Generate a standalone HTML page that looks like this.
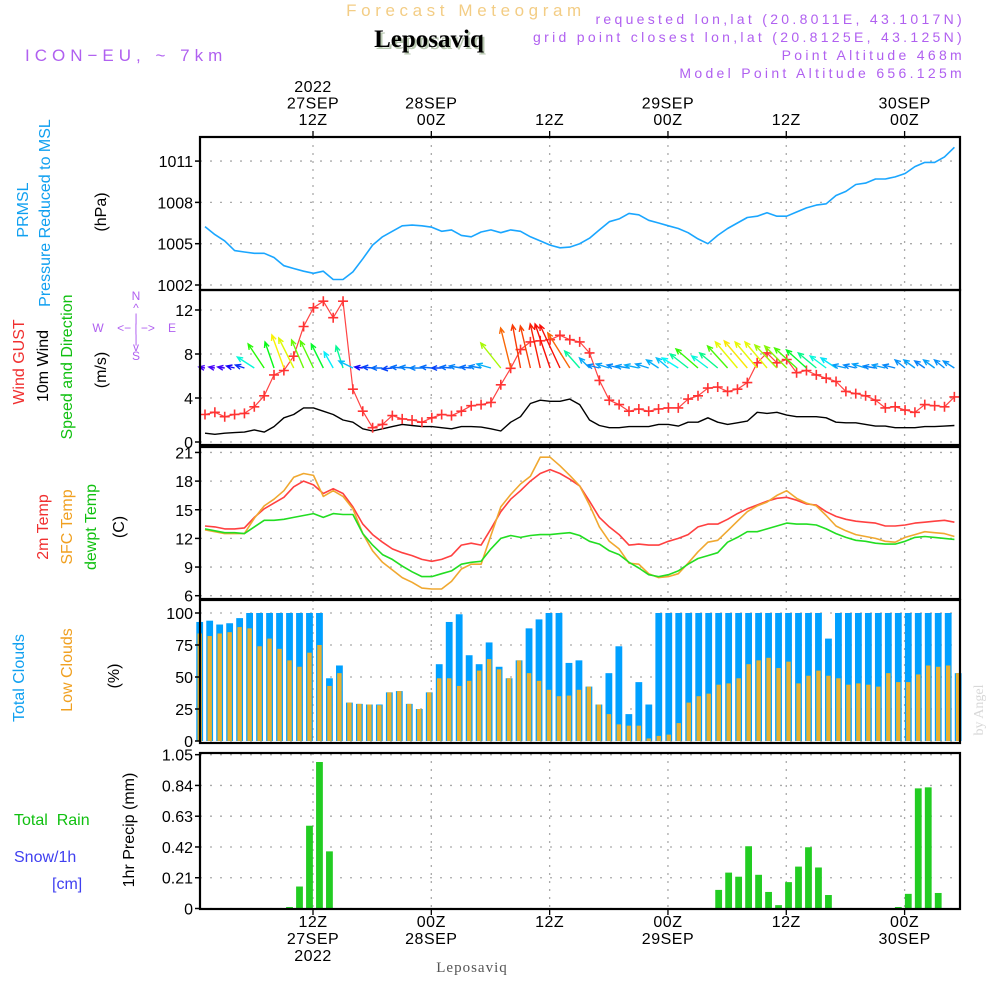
<!DOCTYPE html>
<html><head><meta charset="utf-8"><title>Meteogram Leposaviq</title>
<style>
html,body{margin:0;padding:0;background:#fff;}
svg{display:block;font-family:"Liberation Sans",sans-serif;}
</style></head>
<body>
<svg id="chart" width="1000" height="1000" viewBox="0 0 1000 1000" xmlns="http://www.w3.org/2000/svg">
<g id="grid"></g>
<g id="marks"></g>
<g id="frames"></g>
<g id="labels"></g>

<text x="466" y="16" text-anchor="middle" font-size="17" letter-spacing="4.6" fill="#f3cd85">Forecast Meteogram</text>
<text x="431" y="49" text-anchor="middle" font-family="Liberation Serif,serif" font-weight="bold" font-size="25" fill="#b8c8b0">Leposaviq</text>
<text x="429" y="47" text-anchor="middle" font-family="Liberation Serif,serif" font-weight="bold" font-size="25" fill="#000">Leposaviq</text>
<text x="25" y="61" font-size="17" letter-spacing="5" fill="#b060f0">ICON−EU, ~ 7km</text>
<g font-size="14" letter-spacing="3.3" fill="#b060f0" text-anchor="end">
<text x="965" y="24">requested lon,lat (20.8011E, 43.1017N)</text>
<text x="965" y="42">grid point closest lon,lat (20.8125E, 43.125N)</text>
<text x="965" y="60">Point Altitude 468m</text>
<text x="965" y="78">Model Point Altitude 656.125m</text>
</g>

<g font-size="16">
<text transform="translate(28,210) rotate(-90)" text-anchor="middle" fill="#10a0f0">PRMSL</text>
<text transform="translate(50,213) rotate(-90)" text-anchor="middle" fill="#10a0f0">Pressure Reduced to MSL</text>
<text transform="translate(106,212) rotate(-90)" text-anchor="middle" fill="#000">(hPa)</text>
</g>
<g font-size="16">
<text transform="translate(24,362) rotate(-90)" text-anchor="middle" fill="#f03030">Wind GUST</text>
<text transform="translate(48,366) rotate(-90)" text-anchor="middle" fill="#000">10m Wind</text>
<text transform="translate(72,367) rotate(-90)" text-anchor="middle" fill="#10c010">Speed and Direction</text>
<text transform="translate(106,370) rotate(-90)" text-anchor="middle" fill="#000">(m/s)</text>
</g>
<g font-size="12" fill="#b060f0" text-anchor="middle">
<text x="136" y="300">N</text><text x="136" y="312">^</text><text x="136" y="322">|</text>
<text x="98" y="332">W</text><text x="136" y="332">&lt;− | −&gt;</text><text x="172" y="332">E</text>
<text x="136" y="343">|</text><text x="136" y="351">v</text><text x="136" y="360">S</text>
</g>
<g font-size="16">
<text transform="translate(48,527) rotate(-90)" text-anchor="middle" fill="#f03030">2m Temp</text>
<text transform="translate(72,527) rotate(-90)" text-anchor="middle" fill="#f0a020">SFC Temp</text>
<text transform="translate(96,527) rotate(-90)" text-anchor="middle" fill="#10c010">dewpt Temp</text>
<text transform="translate(124,527) rotate(-90)" text-anchor="middle" fill="#000">(C)</text>
</g>
<g font-size="16">
<text transform="translate(24,678) rotate(-90)" text-anchor="middle" fill="#10a0f0">Total Clouds</text>
<text transform="translate(72,670) rotate(-90)" text-anchor="middle" fill="#f0a020">Low Clouds</text>
<text transform="translate(119,676) rotate(-90)" text-anchor="middle" fill="#000">(%)</text>
</g>
<g font-size="16">
<text x="14" y="825" fill="#10c010" xml:space="preserve">Total  Rain</text>
<text x="14" y="862" fill="#4040f0">Snow/1h</text>
<text x="52" y="889" fill="#4040f0">[cm]</text>
<text transform="translate(134,830) rotate(-90)" text-anchor="middle" fill="#000">1hr Precip (mm)</text>
</g>
<text transform="translate(983,710) rotate(-90)" text-anchor="middle" font-family="Liberation Serif,serif" font-size="14" fill="#d8d8d8">by Angel</text>
<text x="472" y="972" text-anchor="middle" font-family="Liberation Serif,serif" font-size="15" letter-spacing="1" fill="#555">Leposaviq</text>
</svg>
<script>
// ---------------- data ----------------
const timeLabelsTop = [["2022","27SEP","12Z"],["28SEP","00Z"],["12Z"],["29SEP","00Z"],["12Z"],["30SEP","00Z"]];
const timeLabelsBottom = [["12Z","27SEP","2022"],["00Z","28SEP"],["12Z"],["00Z","29SEP"],["12Z"],["00Z","30SEP"]];
const timeTickHours = [11, 23, 35, 47, 59, 71];
const pressure = [1006.24,1005.66,1005.2,1004.5,1004.4,1004.3,1004.3,1004.0,1003.4,1003.2,1003.0,1002.85,1003.0,1002.4,1002.4,1002.95,1003.9,1004.9,1005.5,1005.9,1006.3,1006.35,1006.3,1006.2,1005.9,1006.0,1005.6,1005.5,1005.85,1006.0,1005.8,1006.0,1005.9,1005.5,1005.2,1004.9,1004.7,1004.75,1005.0,1005.4,1006.0,1006.6,1006.8,1007.2,1007.1,1006.7,1006.5,1006.3,1006.1,1005.8,1005.35,1005.0,1005.6,1006.1,1006.5,1006.9,1007.0,1007.25,1007.0,1007.0,1007.3,1007.6,1007.8,1007.9,1008.5,1008.8,1009.3,1009.4,1009.7,1009.7,1009.85,1010.1,1010.6,1010.9,1010.9,1011.3,1012.0];
const pressureTicks = [1002,1005,1008,1011];
const gust = [2.5,2.7,2.3,2.5,2.6,3.2,4.2,6.1,6.5,7.8,10.5,12.2,12.8,11.3,12.8,4.8,2.8,1.3,1.6,2.4,2.1,2.0,1.8,2.2,2.5,2.4,2.8,3.3,3.4,3.6,5.2,6.7,8.4,9.1,9.2,9.3,9.7,9.3,9.1,8.1,5.6,3.8,3.4,2.8,3.0,2.8,3.0,3.1,3.1,3.9,4.2,4.9,5.0,4.6,4.8,5.4,7.2,8.1,7.2,7.5,6.3,6.5,6.1,5.8,5.5,4.6,4.4,4.2,3.8,3.1,3.2,2.9,2.7,3.4,3.3,3.2,4.1];
const wind10m = [0.8,0.7,0.8,0.85,0.9,1.1,0.9,1.4,2.2,2.5,3.1,3.1,2.8,2.5,2.0,1.8,1.2,1.0,1.2,1.4,1.6,1.5,1.4,1.4,1.3,1.2,1.4,1.4,1.35,1.2,1.0,1.8,2.3,3.5,3.8,3.7,3.7,3.9,3.4,2.0,1.5,1.3,1.3,1.4,1.4,1.4,1.6,1.6,1.45,1.8,1.8,2.2,1.8,1.6,1.75,1.9,2.7,2.6,2.7,2.45,2.3,2.3,2.3,2.2,1.8,1.75,1.75,1.6,1.45,1.45,1.3,1.3,1.3,1.4,1.4,1.45,1.5];
const windU = [-6,-6,-7,-8,-9,-17,-16,-9,-12,-15,-12,-13,-12,-9,-7,-14,-8,-10,-11,-10,-11,-12,-12,-11,-10,-11,-12,-11,-12,-14,-20,-10,-8,-10,-10,-15,-20,-22,-15,-10,-12,-13,-12,-13,-14,-13,-12,-12,-16,-18,-22,-16,-18,-20,-22,-23,-22,-22,-22,-22,-22,-20,-18,-16,-15,-13,-12,-13,-12,-13,-12,-10,-11,-10,-11,-10,-11];
const windV = [1,1,1,2,3,11,24,26,33,30,28,27,24,16,22,7,1,1,0,-1,1,1,0,1,0,1,2,1,2,4,25,40,43,42,44,44,43,35,17,10,3,4,3,2,3,4,8,10,10,14,19,12,15,22,26,27,26,26,23,22,20,18,15,12,10,3,3,4,2,3,3,8,8,7,8,8,7];
const windTicks = [0,4,8,12];
const temp2m = [13.3,13.2,13.0,13.0,13.1,14.2,15.1,15.7,16.3,17.4,18.0,17.6,16.7,17.2,16.7,15.3,13.5,12.4,11.6,10.9,10.5,10.2,9.8,9.6,9.8,10.2,11.3,11.5,11.3,13.0,14.8,16.1,17.0,18.0,18.8,19.2,18.8,18.2,17.5,15.9,14.2,13.2,12.4,11.3,11.4,11.3,11.3,11.7,12.0,12.4,13.2,13.5,13.5,14.0,14.6,15.1,15.5,15.9,16.2,16.3,16.0,15.6,15.5,14.8,14.3,14.0,13.8,13.7,13.6,13.3,13.3,13.4,13.6,13.7,13.8,13.9,13.7];
const tempSfc = [12.9,12.7,12.5,12.5,12.5,14.1,15.4,16.1,17.0,18.4,18.8,18.6,16.4,17.0,16.4,15.1,12.5,10.7,9.5,8.7,7.9,7.4,6.8,6.7,6.7,7.5,8.8,9.3,9.3,12.3,15.3,16.6,17.7,18.5,20.5,20.5,19.6,18.6,17.5,15.5,13.2,11.7,10.9,9.4,9.3,8.3,7.9,8.0,8.3,9.4,10.6,11.6,11.8,12.8,13.8,14.8,15.4,15.8,16.5,17.0,16.2,15.7,15.4,14.4,13.3,12.8,12.4,12.2,12.0,11.7,11.6,12.1,12.4,12.7,12.6,12.5,12.2];
const dewpt = [13.0,12.8,12.6,12.6,12.5,13.2,13.9,13.9,14.0,14.2,14.4,14.6,14.2,14.6,14.5,14.5,12.5,11.3,10.3,9.8,9.1,8.5,8.0,8.0,8.3,8.6,9.3,9.5,9.6,10.9,12.0,12.3,12.1,12.3,12.4,12.4,12.5,12.6,12.3,11.7,11.4,10.7,10.3,9.5,8.9,8.2,8.0,8.2,8.6,9.3,9.9,10.2,10.5,11.6,12.1,12.7,12.7,13.0,13.3,13.6,13.5,13.5,13.4,13.0,12.5,12.1,11.8,11.7,11.5,11.4,11.4,11.7,12.1,12.2,12.1,12.0,11.9];
const tempTicks = [6,9,12,15,18,21];
const totalClouds = [93,94,91,92,96,100,100,100,100,100,100,100,100,49,59,30,29,28.5,28.5,38,39,29,25,38,60,93,99,67,60,77,58,49,63,88,95,100,100,61,63,42.5,28.5,53,74,21,46,28.5,100,100,100,100,100,100,100,100,100,100,100,100,100,100,100,100,100,80,100,100,100,100,100,100,100,100,100,100,100,100,53];
const lowClouds = [84,82,84,85,89,88,74,80,72,63,58,69,75,43,53,30,29,28.5,28,38,39,29,25,38,49,49,43,47,55,64,56,49,63,53,47,40,35,35.5,40,42.5,28.5,21,13,12,12,2,4,5,14,30,35,37,44,45,49,60,63,65,57,62,45,51,55,51,49,44,45,44,42.5,53,46,46,52,59,58,59,53];
const cloudTicks = [0,25,50,75,100];
const precip = [0,0,0,0,0,0,0,0,0,0.01,0.15,0.565,1.0,0.39,0,0,0,0,0,0,0,0,0,0,0,0,0,0,0,0,0,0,0,0,0,0,0,0,0,0,0,0,0,0,0,0,0,0,0,0,0,0,0.127,0.245,0.217,0.425,0.23,0.113,0.023,0.18,0.286,0.418,0.28,0.092,0,0,0,0,0,0,0.01,0.1,0.82,0.827,0.106,0,0];
const precipTicks = ["0","0.21","0.42","0.63","0.84","1.05"];

// ---------------- layout ----------------
const X0 = 200, X1 = 960;
const P = {
  pres:{top:137,bot:290,y:v=>285-(v-1002)*13.77},
  wind:{top:290,bot:445,y:v=>442-v*11},
  temp:{top:447,bot:599,y:v=>595.7-(v-6)*9.55},
  cloud:{top:600,bot:743,y:v=>741-v*1.28},
  prec:{top:753,bot:909,y:v=>908.5-v*146.5}
};
const xLine = i => 205 + i*9.86;
const xBar = i => 199.7 + i*9.98;
const xHour = h => 313 + (h-11)*9.86;

const NS = "http://www.w3.org/2000/svg";
function mk(tag, attrs, parent){ const e=document.createElementNS(NS,tag); for(const k in attrs) e.setAttribute(k,attrs[k]); parent.appendChild(e); return e; }
const grid = document.getElementById('grid'), marks=document.getElementById('marks'), frames=document.getElementById('frames'), labels=document.getElementById('labels');

timeTickHours.forEach((h,k)=>{
  const x = xHour(h);
  for (const key in P){
    const ln = mk('line',{x1:x,x2:x,y1:P[key].top,y2:P[key].bot,stroke:'#aaa','stroke-width':1.3,'stroke-dasharray':'2 6'},grid);
    
    
  }
  const tt = mk('line',{x1:x,x2:x,y1:131,y2:137,stroke:'#000','stroke-width':1.3},labels);
  
  
  const tb = mk('line',{x1:x,x2:x,y1:909,y2:915,stroke:'#000','stroke-width':1.3},labels);
  
  
  const top = timeLabelsTop[k];
  top.forEach((s,j)=>{
    const t = mk('text',{x:x,y:125-(top.length-1-j)*16.5,'text-anchor':'middle','font-size':16,'letter-spacing':0.5,fill:'#000'},labels);
    t.textContent = s;
    
    
  });
  timeLabelsBottom[k].forEach((s,j)=>{
    const t = mk('text',{x:x,y:927+j*17,'text-anchor':'middle','font-size':16,'letter-spacing':0.5,fill:'#000'},labels);
    t.textContent = s;
    
    
  });
});

function yAxis(panel, ticks, fmt){
  ticks.forEach(v=>{
    const val = typeof v==='string'?parseFloat(v):v;
    const y = panel.y(val);
    const g = mk('line',{x1:X0,x2:X1,y1:y,y2:y,stroke:'#aaa','stroke-width':1.3,'stroke-dasharray':'2 8'},grid);
    
    
    const tk = mk('line',{x1:X0-5,x2:X0,y1:y,y2:y,stroke:'#000','stroke-width':1.5},labels);
    
    
    const t = mk('text',{x:X0-7,y:y+6,'text-anchor':'end','font-size':16,fill:'#000'},labels);
    t.textContent = fmt?fmt(v):String(v);
    
    
  });
}
yAxis(P.pres, pressureTicks);
yAxis(P.wind, windTicks);
yAxis(P.temp, tempTicks);
yAxis(P.cloud, cloudTicks);
yAxis(P.prec, precipTicks);

for (const key in P){
  const r = mk('rect',{x:X0,y:P[key].top,width:X1-X0,height:P[key].bot-P[key].top,fill:'none',stroke:'#000','stroke-width':2.2},frames);
  
  
}

function line(arr, panel, color, w, name){
  const d = arr.map((v,i)=>(i?'L':'M')+xLine(i).toFixed(1)+' '+panel.y(v).toFixed(1)).join(' ');
  const p = mk('path',{d:d,fill:'none',stroke:color,'stroke-width':w,'stroke-linejoin':'round'},marks);
  
  
  return p;
}

line(pressure, P.pres, '#1aa6ff', 1.6, 'pressure-line');

totalClouds.forEach((v,i)=>{
  const y = P.cloud.y(v);
  const b = mk('rect',{x:xBar(i)-3.4,y:y,width:6.8,height:P.cloud.y(0)-y,fill:'#00a0ff'},marks);
  
  
});
lowClouds.forEach((v,i)=>{
  const y = P.cloud.y(v);
  const b = mk('rect',{x:xBar(i)-2.2,y:y,width:4.4,height:P.cloud.y(0)-y,fill:'#e8b030'},marks);
  
  
});

precip.forEach((v,i)=>{
  if (v<=0) return;
  const y = P.prec.y(v);
  const b = mk('rect',{x:xBar(i)-3.4,y:y,width:6.8,height:P.prec.y(0)-y,fill:'#22cc22'},marks);
  
  
});

line(temp2m, P.temp, '#ff4040', 1.6, 'temp-2m-line');
line(tempSfc, P.temp, '#f0a830', 1.6, 'temp-sfc-line');
line(dewpt, P.temp, '#22dd22', 1.6, 'dewpoint-line');

line(wind10m, P.wind, '#000', 1.4, 'wind-10m-line');
line(gust, P.wind, '#ff4444', 1.2, 'gust-line');
gust.forEach((v,i)=>{
  const x = xLine(i), y = P.wind.y(v);
  const m = mk('path',{d:`M${x-5} ${y}H${x+5}M${x} ${y-5}V${y+5}`,stroke:'#ff3333','stroke-width':1.6},marks);
  
  
});
function hueFor(L){
  const st=[[0,272],[7,255],[11,215],[14,200],[18,185],[24,150],[28,120],[33,70],[40,30],[46,2],[99,0]];
  for(let k=1;k<st.length;k++){ if(L<=st[k][0]){const a=st[k-1],b=st[k];return a[1]+(b[1]-a[1])*(L-a[0])/(b[0]-a[0]);} }
  return 0;
}
const arrowBaseY = 368;
windU.forEach((u,i)=>{
  const v = windV[i];
  const x0 = xLine(i), y0 = arrowBaseY, x1 = x0+u, y1 = y0-v;
  const L = Math.hypot(u,v);
  const col = `hsl(${hueFor(L).toFixed(0)},95%,50%)`;
  const ang = Math.atan2(y1-y0,x1-x0), h=6;
  const a1x = x1 - h*Math.cos(ang-0.42), a1y = y1 - h*Math.sin(ang-0.42);
  const a2x = x1 - h*Math.cos(ang+0.42), a2y = y1 - h*Math.sin(ang+0.42);
  const a = mk('path',{d:`M${x0} ${y0}L${x1} ${y1}M${a1x.toFixed(1)} ${a1y.toFixed(1)}L${x1} ${y1}L${a2x.toFixed(1)} ${a2y.toFixed(1)}`,stroke:col,'stroke-width':1.4,fill:'none'},marks);
  
  
});
</script>
</body></html>
